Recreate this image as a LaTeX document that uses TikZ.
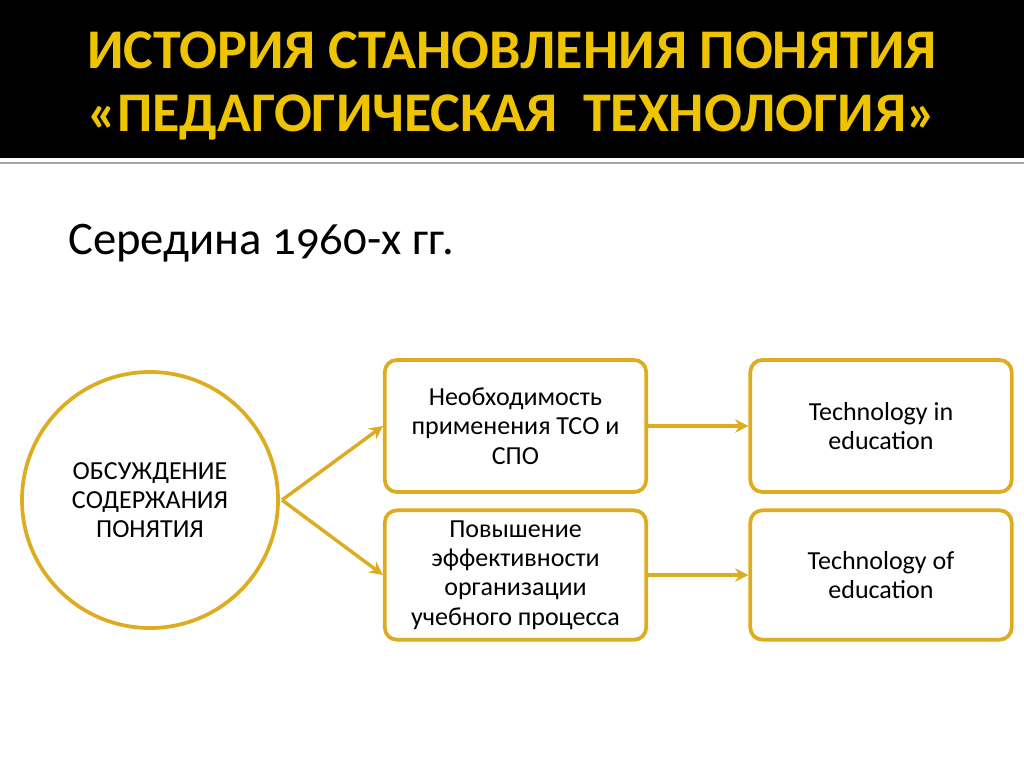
\documentclass[tikz,border=0pt]{standalone}
\usepackage{fontspec}
\setmainfont{Carlito}
\newfontfamily\oldnum[Numbers=OldStyle]{Carlito}
\usetikzlibrary{arrows.meta}
\definecolor{gold}{RGB}{222,172,32}
\definecolor{titlegold}{RGB}{238,196,0}
\begin{document}
\begin{tikzpicture}[x=0.75pt,y=-0.75pt,
  box/.style={draw=gold,line width=2.8pt,rounded corners=9pt,fill=white,align=center,font=\fontsize{19.5}{22}\selectfont,inner sep=0pt},
  conn/.style={draw=gold,line width=2.6pt,-{Stealth[length=10pt,width=10pt]}}]
\useasboundingbox (0,0) rectangle (1024,767);
\fill[white] (0,0) rectangle (1024,767);
\fill[black] (0,0) rectangle (1024,158);
\draw[gray!70,line width=1.2pt] (0,163) -- (1024,163);
\node[font=\bfseries\fontsize{42}{47}\selectfont,text=titlegold,align=center] (title) at (512,86) {ИСТОРИЯ СТАНОВЛЕНИЯ ПОНЯТИЯ\\«ПЕДАГОГИЧЕСКАЯ \ ТЕХНОЛОГИЯ»};
\node[anchor=base west,font=\oldnum\fontsize{35}{40}\selectfont,inner sep=0pt] (sub) at (68,254) {Середина 1960-х гг.};
\node[circle,draw=gold,line width=2.8pt,align=center,font=\fontsize{19.5}{22}\selectfont,minimum size=192pt] (c) at (150,500) {ОБСУЖДЕНИЕ\\СОДЕРЖАНИЯ\\ПОНЯТИЯ};
\node[box,minimum width=196pt,minimum height=99pt] (b1) at (515.5,426) {Необходимость\\применения ТСО и\\СПО};
\node[box,minimum width=196pt,minimum height=97pt] (b2) at (515.5,575) {Повышение\\эффективности\\организации\\учебного процесса};
\node[box,minimum width=196pt,minimum height=99pt] (b3) at (881,426) {Technology in\\education};
\node[box,minimum width=196pt,minimum height=97pt] (b4) at (881,575) {Technology of\\education};
\coordinate (cr) at (282,500);
\draw[conn] (cr) -- (b1.west);
\draw[conn] (cr) -- (b2.west);
\draw[conn] (b1) -- (b3);
\draw[conn] (b2) -- (b4);
\end{tikzpicture}
\end{document}
